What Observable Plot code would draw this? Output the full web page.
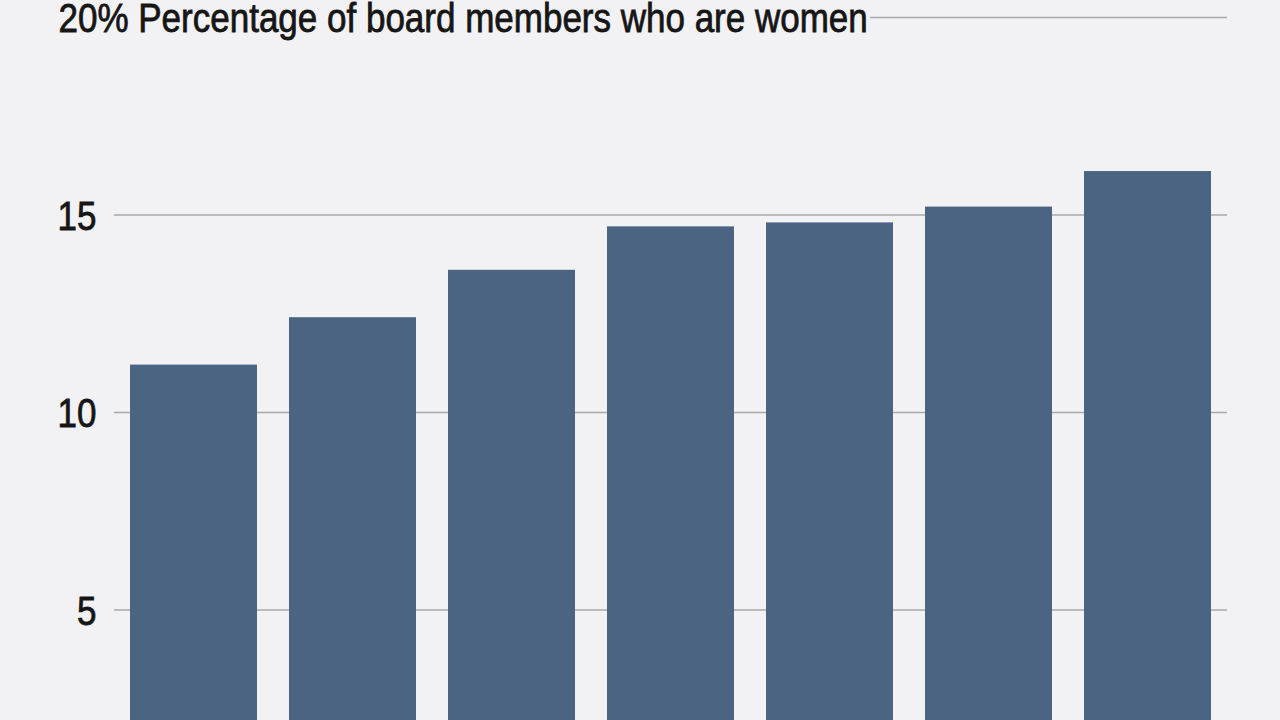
<!DOCTYPE html>
<html><head><meta charset="utf-8">
<script src="https://cdn.jsdelivr.net/npm/d3@7"></script>
<script src="https://cdn.jsdelivr.net/npm/@observablehq/plot@0.6"></script>
<style>
html,body{margin:0;padding:0;background:#f2f2f4;overflow:hidden;}
</style></head><body><div id="chart"></div>
<script>
const years = ["1999", "2001", "2003", "2005", "2007", "2009", "2011"];
const shares = [11.2, 12.4, 13.6, 14.7, 14.8, 15.2, 16.1];
const yTicks = [5, 10, 15];
const topTick = 20;
const title = "20% Percentage of board members who are women";

const data = years.map((year, i) => ({year, share: shares[i]}));
const FONT = "'Liberation Sans', Arial, Helvetica, sans-serif";
const GRID = "#a9a9a9";
const INK = "#161616";

const chart = Plot.plot({
  width: 1280,
  height: 860,
  marginLeft: 114,
  marginRight: 53,
  marginTop: 17,
  marginBottom: 53,
  style: {background: "#f2f2f4", fontFamily: FONT, color: INK},
  x: {domain: years, paddingInner: 0.2, paddingOuter: 0.1, label: null, axis: null},
  y: {domain: [0, 20], label: null},
  marks: [
    Plot.ruleY(yTicks, {stroke: GRID, strokeWidth: 1.5}),
    Plot.ruleY([topTick], {stroke: GRID, strokeWidth: 1.5, insetLeft: 756}),
    Plot.barY(data, {x: "year", y: "share", fill: "#4a6482"}),
    Plot.axisY(yTicks, {tickSize: 0, tickPadding: 18, fontSize: 40, label: null, dy: 2}),
    Plot.text([title], {text: d => d, y: [topTick], frameAnchor: "left", textAnchor: "start", dx: -56, dy: 2, fontSize: 40, fill: INK})
  ]
});
document.getElementById("chart").appendChild(chart);

// condense the glyphs horizontally (the original uses a condensed face)
d3.select(chart).selectAll("text").each(function () {
  const len = this.getComputedTextLength();
  this.setAttribute("textLength", (len * 0.875).toFixed(1));
  this.setAttribute("lengthAdjust", "spacingAndGlyphs");
  this.style.stroke = INK;
  this.style.strokeWidth = "0.8px";
});
</script>
</body></html>
